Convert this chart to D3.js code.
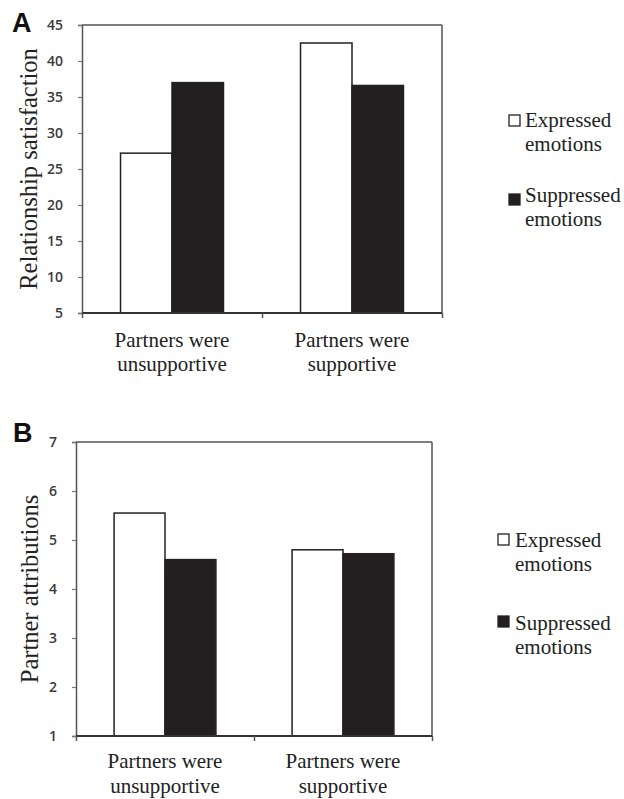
<!DOCTYPE html>
<html><head><meta charset="utf-8">
<script src="https://cdn.jsdelivr.net/npm/d3@7"></script>
<style>body{margin:0;background:#fff}svg{display:block}
.serif, .serif tspan{font-family:"Liberation Serif","Times New Roman",serif;}
</style>
</head><body>
<svg id="c" width="624" height="799"></svg>
<script>
const categories = ["Partners were|unsupportive", "Partners were|supportive"];
const series = ["Expressed emotions", "Suppressed emotions"];
const satisfaction = [[27.2, 37.0], [42.5, 36.6]];
const attributions = [[5.55, 4.6], [4.8, 4.72]];
const ticksA = [5, 10, 15, 20, 25, 30, 35, 40, 45];
const ticksB = [1, 2, 3, 4, 5, 6, 7];
const colors = ["#ffffff", "#231f20"];

const svg = d3.select("#c");

function panel(opts) {
  const {L, R, T, B, domain, ticks, values, title, letter, letterPos, titleX, labelOff, legend} = opts;
  const g = svg.append("g");
  const y = d3.scaleLinear().domain(domain).range([B, T]);
  const x0 = d3.scaleBand().domain(categories).range([L, R]).paddingInner(0.428).paddingOuter(0.214);
  const x1 = d3.scaleBand().domain(series).range([0, x0.bandwidth()]);
  const xb = d3.scaleLinear().domain([0, categories.length]).range([L, R]);

  g.append("line").attr("x1", L).attr("x2", R).attr("y1", T).attr("y2", T).attr("stroke", "#555").attr("stroke-width", 1.5);
  g.append("line").attr("x1", R).attr("x2", R).attr("y1", T).attr("y2", B).attr("stroke", "#555").attr("stroke-width", 1.5);

  categories.forEach((c, i) => {
    series.forEach((s, j) => {
      g.append("rect")
        .attr("x", x0(c) + x1(s)).attr("width", x1.bandwidth())
        .attr("y", y(values[i][j])).attr("height", B - y(values[i][j]))
        .attr("fill", colors[j]).attr("stroke", "#222").attr("stroke-width", 1.5);
    });
  });

  const ya = g.append("g").attr("transform", `translate(${L},0)`)
    .call(d3.axisLeft(y).tickValues(ticks).tickSize(4).tickPadding(15).tickFormat(d3.format("d")));
  ya.select(".domain").attr("stroke", "#555").attr("stroke-width", 1.5);
  ya.selectAll(".tick line").attr("stroke", "#777").attr("stroke-width", 1.2);
  ya.selectAll(".tick text").attr("font-family", "'Open Sans', sans-serif").attr("font-weight", 600)
    .attr("font-size", 14).attr("fill", "#3a3a3a");

  const xa = g.append("g").attr("transform", `translate(0,${B})`)
    .call(d3.axisBottom(xb).tickValues(d3.range(categories.length + 1)).tickSize(5).tickFormat(""));
  xa.select(".domain").attr("stroke", "#333").attr("stroke-width", 2).attr("d", `M${L},0H${R}`);
  xa.selectAll(".tick line").attr("stroke", "#555").attr("stroke-width", 1.5);

  categories.forEach(c => {
    const t = g.append("text").attr("class", "serif").attr("text-anchor", "middle")
      .attr("font-size", 21).attr("fill", "#222");
    c.split("|").forEach((line, k) => {
      t.append("tspan").attr("x", x0(c) + x0.bandwidth() / 2).attr("y", B + labelOff[k]).text(line);
    });
  });

  g.append("text").attr("class", "serif").attr("transform", `translate(${titleX},${(T + B) / 2}) rotate(-90)`)
    .attr("text-anchor", "middle").attr("font-size", 24.5).attr("fill", "#222").text(title);

  g.append("text").attr("x", letterPos[0]).attr("y", letterPos[1])
    .attr("font-family", "'Liberation Sans', Arial, sans-serif").attr("font-weight", "bold")
    .attr("font-size", 27).attr("fill", "#111").text(letter);

  series.forEach((s, j) => {
    const lg = legend[j];
    g.append("rect").attr("x", lg.sx).attr("y", lg.sy).attr("width", 11).attr("height", 11)
      .attr("fill", colors[j]).attr("stroke", "#222").attr("stroke-width", 1.3);
    const t = g.append("text").attr("class", "serif").attr("font-size", 21).attr("fill", "#222");
    s.split(" ").forEach((w, k) => {
      t.append("tspan").attr("x", lg.tx).attr("y", lg.ty + k * 24).text(w);
    });
  });
}

panel({L: 82, R: 442, T: 25, B: 313, domain: [5, 45], ticks: ticksA, values: satisfaction,
  title: "Relationship satisfaction", letter: "A", letterPos: [12, 32], titleX: 37, labelOff: [34, 58],
  legend: [{sx: 509, sy: 115, tx: 525, ty: 127}, {sx: 509, sy: 194, tx: 525, ty: 202}]});

panel({L: 76, R: 432, T: 442, B: 736, domain: [1, 7], ticks: ticksB, values: attributions,
  title: "Partner attributions", letter: "B", letterPos: [13, 442], titleX: 38, labelOff: [32, 57],
  legend: [{sx: 498, sy: 534, tx: 515, ty: 547}, {sx: 498, sy: 616, tx: 515, ty: 630}]});
</script>
</body></html>
